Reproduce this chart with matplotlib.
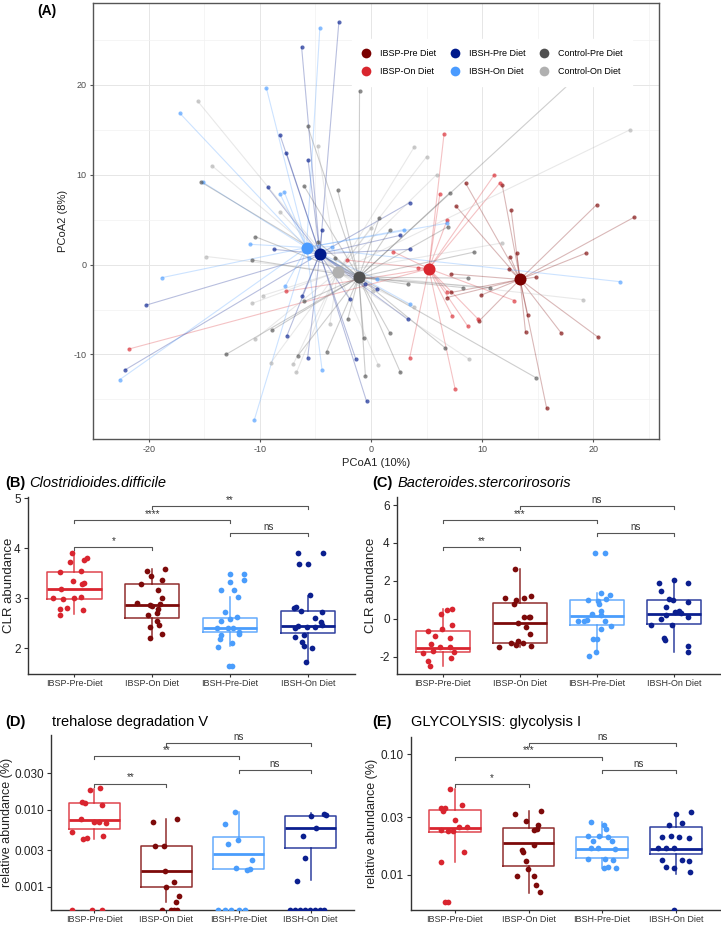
import numpy as np
import matplotlib
matplotlib.use('Agg')
import matplotlib.pyplot as plt
from matplotlib.lines import Line2D

plt.rcParams['font.family'] = ['Liberation Sans', 'DejaVu Sans']
plt.rcParams['axes.unicode_minus'] = False

W, H = 721, 925

# ========== (A) PCoA data ==========
pcoa_groups = ['IBSP-Pre Diet', 'IBSP-On Diet', 'IBSH-Pre Diet',
               'IBSH-On Diet', 'Control-Pre Diet', 'Control-On Diet']
pcoa_colors = ['#7a0000', '#d9262e', '#001a8c', '#4a9bff', '#505050', '#b0b0b0']
cent_x = [13.4, 5.2, -4.6, -5.8, -1.1, -3.0]
cent_y = [-1.65, -0.45, 1.2, 1.9, -1.4, -0.8]

ibsp_pre_x = [20.3, 23.65, 19.3, 12.6, 13.1, 12.5, 12.4, 14.8, 7.2, 7.2, 6.8, 9.9, 9.7,
              14.1, 13.9, 17.1, 20.45, 7.65, 8.5, 11.8, 15.8]
ibsp_pre_y = [6.67, 5.26, 1.26, 6.07, 1.26, 0.89, -0.48, -1.4, -1.04, -3.1, -3.67, -3.4, -6.3,
              -5.6, -7.55, -7.6, -8.1, 6.48, 9.07, 8.85, -16.0]
ibsp_on_x = [6.57, 11.1, 11.6, 6.2, 6.85, 2.0, 4.2, -2.15, -7.6, -21.8, 6.85, 7.3, 8.7,
             9.66, 3.47, 7.56, 12.9]
ibsp_on_y = [14.55, 10.0, 9.1, 7.9, 4.96, 1.44, -0.37, 0.5, -2.97, -9.4, -3.0, -5.7, -6.85,
             -6.1, -10.4, -13.8, -4.0]
ibsh_pre_x = [-2.89, -6.24, -8.18, -7.6, -5.66, -9.3, 3.5, 2.65, -4.4, -8.76, 3.47, -6.2,
              -20.2, -22.1, -7.56, -5.7, -1.37, 3.3, 0.5, -0.58, -1.9, -0.4]
ibsh_pre_y = [26.96, 24.2, 14.4, 12.4, 11.66, 8.6, 6.9, 3.26, 3.9, 1.7, 1.7, -3.5,
              -4.5, -11.7, -7.9, -10.4, -10.5, -6.1, -2.75, -2.2, -3.85, -15.2]
ibsh_on_x = [-4.6, -9.4, -17.2, -15.1, -8.2, -7.8, -10.9, -18.8, -3.55, 3.0, 6.8, 22.4,
             -7.7, 3.5, -4.4, -22.6, -10.5, 0.5, -5.6]
ibsh_on_y = [26.3, 19.6, 16.85, 9.15, 7.9, 8.07, 2.26, -1.45, 2.0, 3.9, 4.6, -1.9,
             -2.4, -4.4, -11.7, -12.8, -17.3, -1.6, 0.74]
ctrl_pre_x = [-1.03, -5.7, -6.0, -3.0, -15.3, 0.75, 7.1, 6.9, 1.7, -10.4, -10.7, 9.3, 8.7,
              8.3, 10.7, 3.3, 1.7, 6.7, 14.8, -13.05, -8.9, -6.6, -4.0, 2.65, -0.5, -0.65,
              -3.26, -4.8, -6.0, -2.1, 19.5]
ctrl_pre_y = [19.3, 15.4, 8.7, 8.3, 9.2, 5.2, 8.0, 4.2, 3.85, 3.1, 0.52, 1.4, -1.5,
              -2.56, -2.56, -2.2, -7.6, -9.3, -12.56, -10.0, -7.3, -10.15, -9.7, -12.0, -12.4, -8.2,
              0.74, 2.55, -4.1, -6.1, 22.0]
ctrl_on_x = [23.3, 3.9, 5.0, 5.9, 11.75, 19.1, 8.8, -15.6, -14.3, -4.8, -8.2, -14.8, -10.45,
             -10.66, -9.0, -7.0, -6.7, -3.7, 0.66, 0.0, 0.2, 3.9, -9.75]
ctrl_on_y = [15.0, 13.1, 12.0, 10.0, 2.4, -3.9, -10.5, 18.2, 11.0, 13.2, 5.9, 0.9, -8.3,
             -4.3, -10.9, -11.1, -12.0, -6.6, -11.2, 4.1, -2.9, -4.67, -3.45]

pts_x = [ibsp_pre_x, ibsp_on_x, ibsh_pre_x, ibsh_on_x, ctrl_pre_x, ctrl_on_x]
pts_y = [ibsp_pre_y, ibsp_on_y, ibsh_pre_y, ibsh_on_y, ctrl_pre_y, ctrl_on_y]

# ========== box panels data ==========
box_labels = ['IBSP-Pre-Diet', 'IBSP-On Diet', 'IBSH-Pre-Diet', 'IBSH-On Diet']
box_colors = ['#d9252f', '#7d0a0a', '#4a9dfc', '#0b1f8f']

# (B) Clostridioides.difficile, CLR abundance
cdiff_vals = [
    [3.91, 3.73, 3.77, 3.81, 3.52, 3.55, 3.35, 3.31, 3.29, 3.19, 3.01, 2.99, 3.01, 3.02, 2.79, 2.81, 2.77, 2.66],
    [3.55, 3.59, 3.45, 3.37, 3.28, 3.16, 3.0, 2.91, 2.85, 2.87, 2.89, 2.79, 2.7, 2.66, 2.55, 2.47, 2.43, 2.29, 2.21],
    [3.49, 3.49, 3.36, 3.33, 3.17, 3.17, 3.03, 2.73, 2.62, 2.58, 2.54, 2.4, 2.4, 2.41, 2.33, 2.27, 2.29, 2.18, 2.1, 2.03, 1.65, 1.65],
    [3.91, 3.91, 3.69, 3.69, 3.07, 2.81, 2.82, 2.75, 2.73, 2.6, 2.4, 2.44, 2.42, 2.42, 2.47, 2.53, 2.22, 2.27, 2.13, 2.01, 2.05, 1.73],
]
cdiff_jit = [
    [-0.03, -0.05, 0.12, 0.16, -0.19, 0.08, -0.02, 0.12, 0.10, -0.17, -0.27, -0.14, 0.0, 0.09, -0.19, -0.09, 0.11, -0.19],
    [-0.07, 0.17, -0.02, 0.13, -0.15, 0.07, 0.12, -0.19, 0.0, -0.03, 0.10, 0.08, 0.06, -0.06, 0.06, 0.09, -0.03, 0.13, -0.03],
    [0.0, 0.18, 0.18, 0.0, -0.11, 0.05, 0.1, -0.07, 0.09, 0.0, -0.11, -0.17, -0.03, 0.04, 0.11, -0.12, 0.12, -0.13, 0.02, -0.15, -0.01, 0.03],
    [-0.12, 0.19, -0.11, 0.0, 0.03, -0.18, -0.15, -0.09, 0.18, 0.09, -0.17, -0.12, -0.01, 0.09, 0.18, 0.17, -0.16, -0.05, -0.08, 0.06, -0.05, -0.02],
]
cdiff_lo = [2.68, 2.2, 2.05, 1.73]
cdiff_q1 = [2.99, 2.6, 2.33, 2.31]
cdiff_med = [3.19, 2.87, 2.41, 2.44]
cdiff_q3 = [3.53, 3.28, 2.61, 2.75]
cdiff_hi = [3.93, 3.59, 3.03, 3.05]
cdiff_sig = [(1, 2, 4.02, '*'), (1, 3, 4.57, '****'), (2, 4, 4.85, '**'), (3, 4, 4.3, 'ns')]

# (C) Bacteroides.stercorirosoris, CLR abundance
bster_vals = [
    [0.49, 0.51, 0.23, -0.35, -0.62, -0.53, -0.93, -1.0, -1.33, -1.5, -1.47, -1.68, -1.82, -1.77, -2.05, -2.24, -2.49],
    [2.61, 1.18, 1.11, 1.09, 0.99, 0.76, 0.09, 0.09, 0.09, -0.23, -0.41, -0.81, -1.18, -1.25, -1.3, -1.4, -1.42, -1.47],
    [3.49, 3.49, 1.38, 1.23, 1.02, 0.99, 0.95, 0.76, 0.41, 0.23, 0.2, -0.09, -0.06, -0.12, -0.12, -0.39, -0.56, -1.06, -1.06, -1.73, -1.96],
    [2.03, 1.87, 1.87, 1.45, 1.05, 1.0, 0.9, 0.62, 0.42, 0.35, 0.3, 0.18, 0.09, -0.02, -0.35, -0.3, -1.0, -1.1, -1.42, -1.77],
]
bster_jit = [
    [0.05, 0.12, -0.02, 0.12, -0.19, -0.01, -0.1, 0.09, -0.16, -0.04, 0.09, -0.13, -0.26, 0.15, 0.1, -0.19, -0.17],
    [-0.06, 0.15, 0.06, -0.19, -0.05, -0.07, 0.06, 0.12, 0.13, -0.03, 0.08, 0.13, -0.03, 0.04, -0.11, -0.05, 0.15, -0.27],
    [-0.02, 0.1, 0.05, 0.17, 0.12, -0.11, 0.02, 0.03, 0.06, -0.06, 0.06, -0.17, -0.13, -0.24, 0.1, 0.19, 0.05, -0.05, 0.0, -0.01, -0.1],
    [0.0, -0.19, 0.18, -0.16, -0.06, -0.01, 0.19, -0.1, 0.07, 0.01, 0.09, -0.1, 0.19, -0.16, -0.29, -0.02, -0.13, -0.12, 0.19, 0.18],
]
bster_lo = [-2.49, -1.48, -1.75, -1.77]
bster_q1 = [-1.77, -1.27, -0.35, -0.26]
bster_med = [-1.53, -0.21, 0.14, 0.28]
bster_q3 = [-0.65, 0.85, 0.97, 0.97]
bster_hi = [0.5, 2.61, 1.38, 2.03]
bster_sig = [(1, 2, 3.77, '**'), (1, 3, 5.22, '***'), (2, 4, 5.96, 'ns'), (3, 4, 4.51, 'ns')]

# (D) trehalose degradation V, relative abundance (%)  (0 = not detected)
treh_vals = [
    [0.0183, 0.0191, 0.0128, 0.0125, 0.0117, 0.0076, 0.0069, 0.0069, 0.0068, 0.0052, 0.0042, 0.0043, 0.0046, 0, 0, 0],
    [0.0069, 0.0076, 0.0034, 0.0034, 0.00158, 0.00115, 0.00099, 0.00076, 0.00063, 0, 0, 0, 0],
    [0.0094, 0.0066, 0.0041, 0.0036, 0.0022, 0.00174, 0.00164, 0.00168, 0, 0, 0, 0, 0],
    [0.0088, 0.0085, 0.0084, 0.0059, 0.0046, 0.00235, 0.0012, 0, 0, 0, 0, 0, 0, 0, 0],
]
treh_jit = [
    [-0.06, 0.08, -0.17, -0.13, 0.11, -0.19, 0.0, 0.07, 0.16, -0.31, -0.16, -0.1, 0.12, -0.31, -0.03, 0.1],
    [-0.18, 0.14, -0.16, -0.03, -0.02, 0.1, 0.0, 0.18, 0.13, -0.06, 0.07, 0.1, 0.14],
    [-0.05, -0.19, -0.01, -0.14, 0.19, -0.04, 0.12, 0.16, -0.28, -0.19, -0.1, 0.0, 0.09],
    [0.19, 0.21, 0.0, 0.07, -0.11, -0.08, -0.19, -0.29, -0.22, -0.15, -0.08, -0.01, 0.06, 0.13, 0.19],
]
treh_lo = [0.00418, 0.00063, 0.00168, 0.00121]
treh_q1 = [0.00564, 0.000985, 0.00168, 0.00323]
treh_med = [0.00743, 0.00158, 0.00268, 0.0059]
treh_q3 = [0.0122, 0.00337, 0.0044, 0.00837]
treh_hi = [0.0185, 0.0076, 0.0094, 0.0091]
treh_sig = [(1, 2, 0.0221, '**'), (1, 3, 0.0499, '**'), (2, 4, 0.0757, 'ns'), (3, 4, 0.0329, 'ns')]

# (E) GLYCOLYSIS: glycolysis I, relative abundance (%)
glyc_vals = [
    [0.051, 0.038, 0.036, 0.036, 0.034, 0.0286, 0.0235, 0.0232, 0.0232, 0.025, 0.025, 0.0153, 0.0127, 0.0059, 0.0059],
    [0.0318, 0.0335, 0.0279, 0.026, 0.024, 0.0235, 0.016, 0.0155, 0.0175, 0.0131, 0.0111, 0.0097, 0.0097, 0.0082, 0.0072],
    [0.0274, 0.026, 0.024, 0.021, 0.021, 0.0205, 0.019, 0.019, 0.0165, 0.0166, 0.0163, 0.0135, 0.0134, 0.0133, 0.0114, 0.0116, 0.0114],
    [0.032, 0.033, 0.026, 0.027, 0.0205, 0.0205, 0.021, 0.020, 0.0165, 0.0165, 0.0168, 0.0133, 0.0133, 0.0131, 0.0115, 0.0113, 0.0105, 0],
]
glyc_jit = [
    [-0.06, 0.09, -0.19, -0.14, -0.16, 0.0, -0.19, -0.1, -0.03, 0.05, 0.16, 0.12, -0.19, -0.14, -0.1],
    [-0.19, 0.17, -0.04, 0.13, 0.11, 0.07, -0.09, -0.07, 0.08, -0.04, -0.01, -0.16, 0.07, 0.1, 0.15],
    [-0.15, 0.02, 0.05, -0.19, -0.04, 0.08, -0.12, 0.13, -0.15, -0.05, 0.18, -0.19, 0.04, 0.15, 0.03, 0.08, 0.19],
    [0.0, 0.21, -0.09, 0.08, -0.19, 0.05, -0.07, 0.18, -0.24, -0.03, -0.14, -0.19, 0.08, 0.18, -0.14, -0.02, 0.19, -0.03],
]
glyc_lo = [0.0127, 0.00698, 0.0114, 0.0102]
glyc_q1 = [0.0224, 0.0119, 0.0138, 0.0148]
glyc_med = [0.0245, 0.0183, 0.0164, 0.0163]
glyc_q3 = [0.0347, 0.0243, 0.0204, 0.0247]
glyc_hi = [0.0509, 0.0337, 0.0274, 0.0323]
glyc_sig = [(1, 2, 0.0569, '*'), (1, 3, 0.0955, '***'), (2, 4, 0.1245, 'ns'), (3, 4, 0.0733, 'ns')]


fig = plt.figure(figsize=(W / 100, H / 100), dpi=100)


def add_ax(left, top, right, bottom):
    """Axes from pixel edges."""
    return fig.add_axes([left / W, 1 - bottom / H, (right - left) / W, (bottom - top) / H])


def ftext(x, y, s, **kw):
    fig.text(x / W, 1 - y / H, s, **kw)


# ========== (A) PCoA ==========
axA = add_ax(93, 3, 659, 439)
for i in range(6):
    for px, py in zip(pts_x[i], pts_y[i]):
        axA.plot([cent_x[i], px], [cent_y[i], py], color=pcoa_colors[i], alpha=0.28, lw=0.8, zorder=2)
for i in range(6):
    axA.scatter(pts_x[i], pts_y[i], s=9, color=pcoa_colors[i], alpha=0.65, lw=0, zorder=3)
for i in [1, 3, 5, 0, 2, 4]:
    axA.scatter(cent_x[i], cent_y[i], s=75, color=pcoa_colors[i], lw=0, zorder=4)
axA.set_xlim(-24.8, 25.9)
axA.set_ylim(-19.4, 29.1)
axA.set_xticks([-20, -10, 0, 10, 20])
axA.set_yticks([-10, 0, 10, 20])
axA.set_xticks(np.arange(-25, 26, 5), minor=True)
axA.set_yticks(np.arange(-15, 29, 5), minor=True)
axA.grid(which='major', color='#e6e6e6', lw=0.7)
axA.grid(which='minor', color='#f2f2f2', lw=0.5)
axA.set_axisbelow(True)
axA.tick_params(which='minor', length=0)
axA.tick_params(which='major', length=2.5, color='#555555', labelsize=6.5, labelcolor='#4d4d4d', pad=2)
for sp in axA.spines.values():
    sp.set_color('#555555')
    sp.set_linewidth(1.0)
axA.set_xlabel('PCoA1 (10%)', fontsize=8, color='#222222', labelpad=3)
axA.set_ylabel('PCoA2 (8%)', fontsize=8, color='#222222', labelpad=4)

handles = [Line2D([], [], ls='', marker='o', markersize=7, color=c, markeredgewidth=0) for c in pcoa_colors]
leg = axA.legend(handles, pcoa_groups, ncol=3, loc='upper left',
                 bbox_to_anchor=(352 / W, 1 - 39 / H), bbox_transform=fig.transFigure,
                 fontsize=6.5, frameon=True, framealpha=1, edgecolor='white', fancybox=False,
                 handlelength=1.0, handletextpad=1.0, columnspacing=1.6, labelspacing=1.0,
                 borderpad=1.1, borderaxespad=0)
leg.set_zorder(10)
ftext(37, 11, '(A)', fontsize=10, fontweight='bold', va='center')


# ========== box panels ==========
def box_panel(ax, vals, jit, lo, q1, med, q3, hi, ylim, sig, log=False):
    if log:
        ax.set_yscale('log')
    ax.set_xlim(0.4, 4.6)
    ax.set_ylim(*ylim)
    stats = [dict(whislo=lo[i], q1=q1[i], med=med[i], q3=q3[i], whishi=hi[i]) for i in range(4)]
    art = ax.bxp(stats, positions=[1, 2, 3, 4], widths=0.7, showfliers=False, showcaps=False)
    for i, c in enumerate(box_colors):
        art['boxes'][i].set(color=c, lw=1.1, alpha=0.85)
        art['medians'][i].set(color=c, lw=2.0)
        art['whiskers'][2 * i].set(color=c, lw=1.1, alpha=0.85)
        art['whiskers'][2 * i + 1].set(color=c, lw=1.1, alpha=0.85)
    for i, c in enumerate(box_colors):
        y = np.array(vals[i], dtype=float)
        if log:
            y = np.where(y <= 0, ylim[0], y)  # undetected values sit on the axis
        ax.scatter(np.array(jit[i]) + i + 1, y, s=17, color=c, lw=0, zorder=3)
    ax.set_xticks([1, 2, 3, 4])
    ax.set_xticklabels(box_labels, fontsize=6.5, color='#333333')
    ax.minorticks_off()
    ax.tick_params(axis='y', labelsize=8.5, labelcolor='#222222', length=3, color='#333333', pad=2)
    ax.tick_params(axis='x', length=2.5, color='#333333', pad=1)
    for s in ['top', 'right']:
        ax.spines[s].set_visible(False)
    for s in ['left', 'bottom']:
        ax.spines[s].set_color('#333333')
        ax.spines[s].set_linewidth(1.0)
    # significance brackets
    h_ax = ax.get_position().height * H
    tr = ax.get_xaxis_transform()
    tip = 3.0 / h_ax
    for g1, g2, yb, lab in sig:
        yf = ax.transAxes.inverted().transform(ax.transData.transform((1, yb)))[1]
        ax.plot([g1, g1, g2, g2], [yf - tip, yf, yf, yf - tip], transform=tr,
                color='#555555', lw=0.8, clip_on=False)
        ax.text((g1 + g2) / 2, yf + 1.0 / h_ax, lab, transform=tr, ha='center', va='bottom',
                fontsize=7, color='#333333', clip_on=False)


def place_ylabel(ax, text, x_right, left, right, size):
    # x_right: pixel x of the label's right edge
    ax.set_ylabel(text, fontsize=size, color='#222222')
    ax.yaxis.set_label_coords((x_right - left) / (right - left), 0.5)


axB = add_ax(27.7, 496.7, 354.5, 674)
box_panel(axB, cdiff_vals, cdiff_jit, cdiff_lo, cdiff_q1, cdiff_med, cdiff_q3, cdiff_hi,
          (1.48, 5.03), cdiff_sig)
axB.set_yticks([2, 3, 4, 5])
place_ylabel(axB, 'CLR abundance', 15, 27.7, 354.5, 9.5)

axC = add_ax(396.7, 496.7, 720, 674)
box_panel(axC, bster_vals, bster_jit, bster_lo, bster_q1, bster_med, bster_q3, bster_hi,
          (-2.91, 6.44), bster_sig)
axC.set_yticks([-2, 0, 2, 4, 6])
place_ylabel(axC, 'CLR abundance', 377, 396.7, 720, 9.5)

axD = add_ax(51, 735, 354, 910)
box_panel(axD, treh_vals, treh_jit, treh_lo, treh_q1, treh_med, treh_q3, treh_hi,
          (0.000495, 0.095), treh_sig, log=True)
axD.set_yticks([0.001, 0.003, 0.01, 0.03])
axD.set_yticklabels(['0.001', '0.003', '0.010', '0.030'])
axD.minorticks_off()
place_ylabel(axD, 'relative abundance (%)', 13, 51, 354, 9)

axE = add_ax(410.7, 736.7, 720, 910)
box_panel(axE, glyc_vals, glyc_jit, glyc_lo, glyc_q1, glyc_med, glyc_q3, glyc_hi,
          (0.00509, 0.1396), glyc_sig, log=True)
axE.set_yticks([0.01, 0.03, 0.1])
axE.set_yticklabels(['0.01', '0.03', '0.10'])
axE.minorticks_off()
place_ylabel(axE, 'relative abundance (%)', 378, 410.7, 720, 9)

# panel titles
ftext(5, 483, '(B)', fontsize=10.5, fontweight='bold', va='center')
ftext(29, 483, 'Clostridioides.difficile', fontsize=10.5, style='italic', va='center')
ftext(372, 483, '(C)', fontsize=10.5, fontweight='bold', va='center')
ftext(397.7, 483, 'Bacteroides.stercorirosoris', fontsize=10.5, style='italic', va='center')
ftext(5, 721.7, '(D)', fontsize=10.5, fontweight='bold', va='center')
ftext(51.7, 721.7, 'trehalose degradation V', fontsize=10.5, va='center')
ftext(372, 721.7, '(E)', fontsize=10.5, fontweight='bold', va='center')
ftext(410.7, 721.7, 'GLYCOLYSIS: glycolysis I', fontsize=10.5, va='center')

fig.savefig('out.png', dpi=100)
